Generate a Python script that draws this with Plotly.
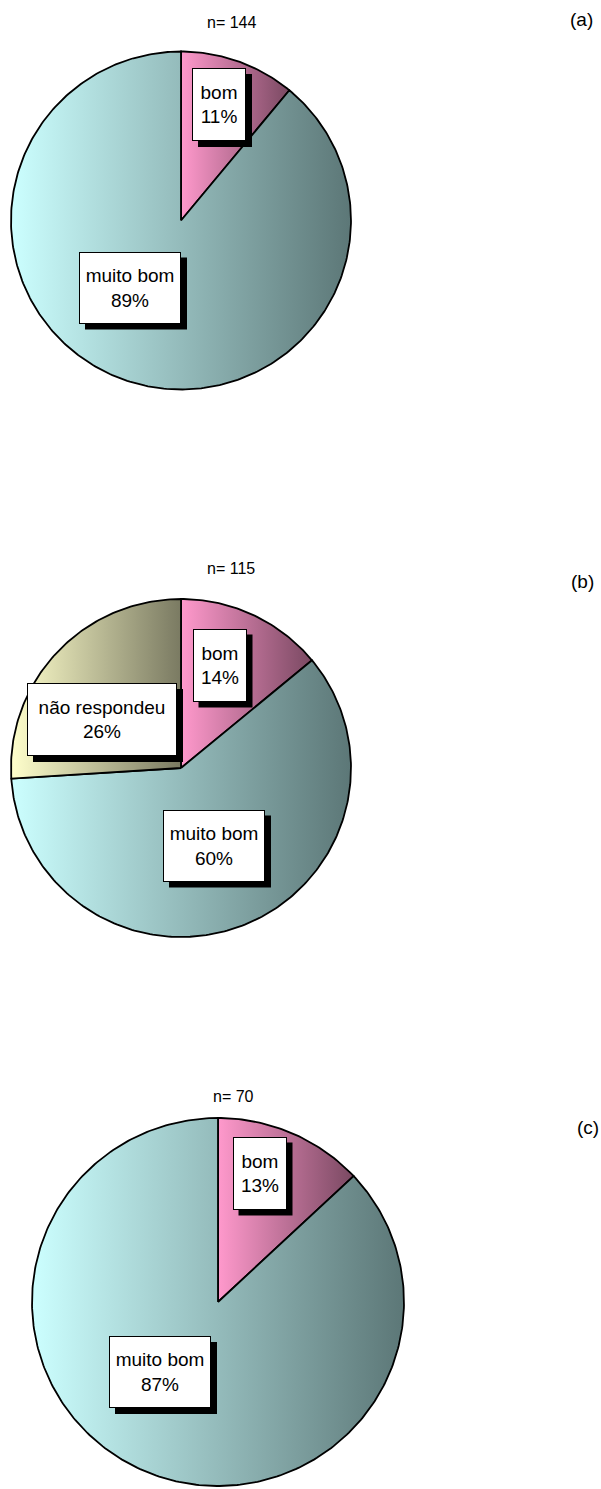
import numpy as np
import plotly.graph_objects as go

W, H = 601, 1489

# ---- data ---------------------------------------------------------------
categories_a = ["bom", "muito bom"]
values_a = [11, 89]

categories_b = ["bom", "muito bom", "não respondeu"]
values_b = [14, 60, 26]

categories_c = ["bom", "muito bom"]
values_c = [13, 87]

sample_sizes = [144, 115, 70]
panel_tags = ["(a)", "(b)", "(c)"]

# ---- styles ---------------------------------------------------------------
# horizontal gradient (light -> dark) used for each category's slice
slice_gradient = {
    "bom": ["#FF99CC", "#7A4962"],
    "muito bom": ["#CCFFFF", "#5C7777"],
    "não respondeu": ["#FFFFCC", "#7A7A62"],
}
# label box size in pixels (width, height)
box_size = {"bom": (54, 73), "muito bom": (102, 72), "não respondeu": (150, 73)}
FONT = "Liberation Sans, Arial, sans-serif"
LABEL_SIZE = 19
TITLE_SIZE = 16
TAG_SIZE = 19
SHADOW = 6

# ---- layout of each panel (pixel geometry) -------------------------------
panels = [
    dict(cats=categories_a, vals=values_a, cx=181, cy=220.5, rx=170, ry=169,
         title_xy=(231, 23), tag_xy=(581, 19),
         label_px={"bom": (219, 104.5), "muito bom": (130, 287.5)}),
    dict(cats=categories_b, vals=values_b, cx=181, cy=768, rx=170, ry=169,
         title_xy=(231, 568), tag_xy=(582, 581),
         label_px={"bom": (219.5, 665), "muito bom": (214, 845.5),
                   "não respondeu": (102, 719.5)}),
    dict(cats=categories_c, vals=values_c, cx=218, cy=1302, rx=186, ry=184,
         title_xy=(233, 1096), tag_xy=(588, 1127),
         label_px={"bom": (259.5, 1173), "muito bom": (160, 1372)}),
]

PAD = 1.03  # extra room so the outline is not clipped

fig = go.Figure()
annotations = []
shapes = []
layout_axes = {}

for i, p in enumerate(panels):
    k = "" if i == 0 else str(i + 1)
    xa, ya = "x" + k, "y" + k

    # axis domains from pixel geometry, kept inside the page
    left = max(p["cx"] - p["rx"] * PAD, 0)
    right = min(p["cx"] + p["rx"] * PAD, W)
    top = max(p["cy"] - p["ry"] * PAD, 0)
    bottom = min(p["cy"] + p["ry"] * PAD, H)
    axis_common = dict(visible=False, showgrid=False, zeroline=False, fixedrange=True)
    layout_axes["xaxis" + k] = dict(
        domain=[left / W, right / W],
        range=[(left - p["cx"]) / p["rx"], (right - p["cx"]) / p["rx"]],
        anchor=ya, **axis_common)
    layout_axes["yaxis" + k] = dict(
        domain=[1 - bottom / H, 1 - top / H],
        range=[-(bottom - p["cy"]) / p["ry"], -(top - p["cy"]) / p["ry"]],
        anchor=xa, **axis_common)

    # slices, clockwise from 12 o'clock
    total = float(sum(p["vals"]))
    cum = 0.0
    for cat, val in zip(p["cats"], p["vals"]):
        f0, f1 = cum / total, (cum + val) / total
        cum += val
        n = max(int(400 * (f1 - f0)), 4)
        th = 2 * np.pi * np.linspace(f0, f1, n)
        xs = np.concatenate([[0.0], np.sin(th), [0.0]])
        ys = np.concatenate([[0.0], np.cos(th), [0.0]])
        c0, c1 = slice_gradient[cat]
        fig.add_trace(go.Scatter(
            x=xs, y=ys, xaxis=xa, yaxis=ya, mode="lines", fill="toself",
            fillgradient=dict(type="horizontal", colorscale=[[0, c0], [1, c1]]),
            line=dict(color="black", width=1.8),
            hoverinfo="skip", showlegend=False, name=cat,
        ))

        # data label: white box with a black drop shadow
        bx, by = p["label_px"][cat]
        ux = (bx - p["cx"]) / p["rx"]
        uy = -(by - p["cy"]) / p["ry"]
        bw, bh = box_size[cat]
        shapes.append(dict(
            type="rect", xref=xa, yref=ya, layer="above",
            xsizemode="pixel", ysizemode="pixel", xanchor=ux, yanchor=uy,
            x0=-bw / 2 + SHADOW, x1=bw / 2 + SHADOW,
            y0=-bh / 2 - SHADOW, y1=bh / 2 - SHADOW,
            fillcolor="black", line=dict(width=0),
        ))
        annotations.append(dict(
            x=ux, y=uy, xref=xa, yref=ya, showarrow=False,
            text=f"{cat}<br>{val}%", align="center", valign="middle",
            width=bw - 2, height=bh - 2, borderpad=0, borderwidth=1,
            bordercolor="black", bgcolor="white",
            font=dict(family=FONT, size=LABEL_SIZE, color="black"),
        ))

    # sample size above the pie and panel tag at the right
    tx, ty = p["title_xy"]
    annotations.append(dict(
        x=tx / W, y=1 - ty / H, xref="paper", yref="paper", showarrow=False,
        text=f"n= {sample_sizes[i]}", xanchor="center", yanchor="middle",
        font=dict(family=FONT, size=TITLE_SIZE, color="black"),
    ))
    gx, gy = p["tag_xy"]
    annotations.append(dict(
        x=gx / W, y=1 - gy / H, xref="paper", yref="paper", showarrow=False,
        text=panel_tags[i], xanchor="center", yanchor="middle",
        font=dict(family=FONT, size=TAG_SIZE, color="black"),
    ))

fig.update_layout(
    width=W, height=H,
    margin=dict(l=0, r=0, t=0, b=0),
    paper_bgcolor="white", plot_bgcolor="rgba(0,0,0,0)",
    annotations=annotations,
    shapes=shapes,
    **layout_axes,
)

fig.write_html("out.html")
